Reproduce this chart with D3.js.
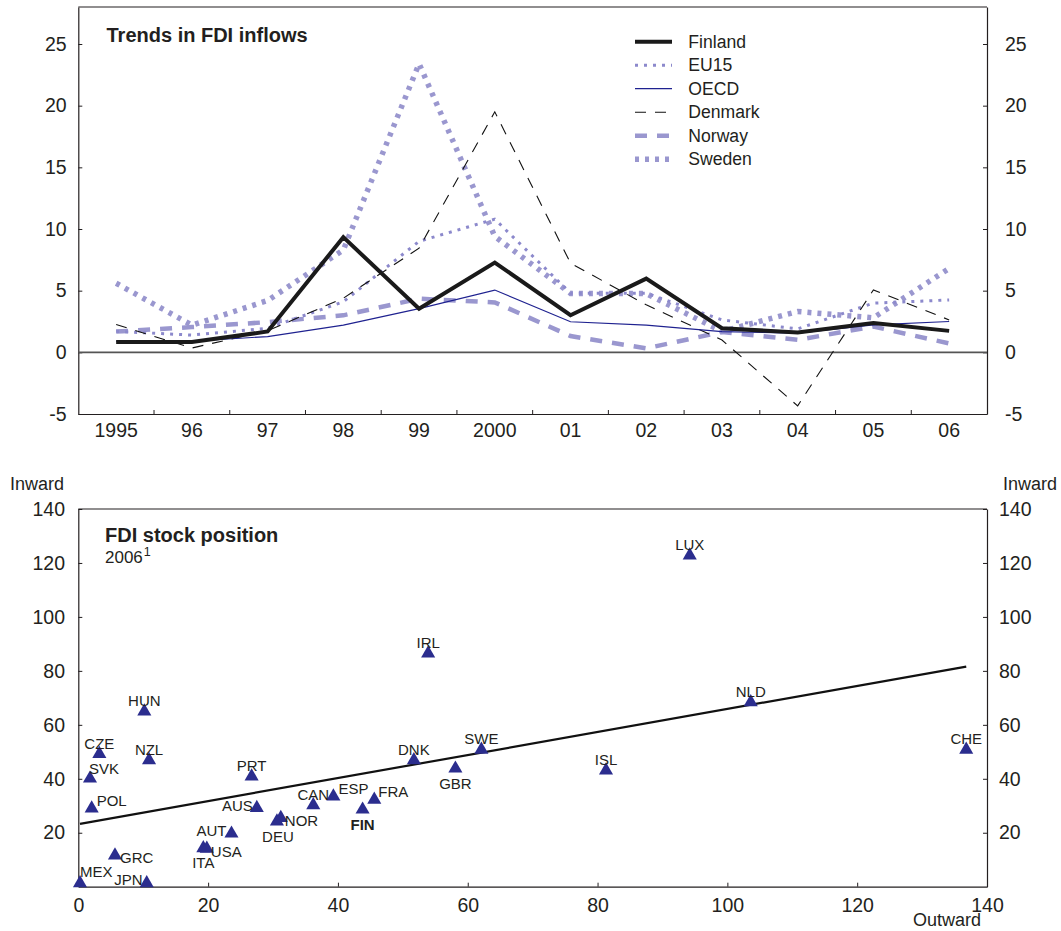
<!DOCTYPE html>
<html><head><meta charset="utf-8">
<script src="https://cdn.jsdelivr.net/npm/d3@7"></script>
<style>
body{margin:0;background:#fff}
text{font-family:"Liberation Sans",Arial,Helvetica,sans-serif;fill:#231f20}
</style>
</head><body>
<svg id="c" width="1061" height="931"></svg>
<script>
// ---------- Top panel data ----------
const years = ["1995","96","97","98","99","2000","01","02","03","04","05","06"];
const finland = [0.83,0.83,1.69,9.34,3.53,7.28,3.01,5.98,1.96,1.6,2.37,1.74];
const eu15    = [1.7,1.4,1.95,4.1,9.0,10.8,4.8,4.8,2.63,1.9,3.99,4.25];
const oecd    = [0.9,0.9,1.28,2.2,3.55,5.05,2.48,2.2,1.68,1.55,2.22,2.5];
const denmark = [2.25,0.35,1.75,4.39,8.45,19.5,7.23,3.85,1.0,-4.34,5.06,2.63];
const norway  = [1.68,2.05,2.45,3.0,4.35,4.05,1.32,0.32,1.65,1.01,2.09,0.72];
const sweden  = [5.6,2.2,4.2,8.3,23.4,9.4,4.78,4.76,1.7,3.31,2.8,6.8];
const topYTicks = [-5,0,5,10,15,20,25];
const seriesNames = ["Finland","EU15","OECD","Denmark","Norway","Sweden"];

// ---------- Bottom panel data ----------
const countries = ["MEX","JPN","GRC","POL","SVK","CZE","HUN","NZL","PRT","AUS","AUT","ITA","USA","DEU","NOR","CAN","ESP","FIN","FRA","DNK","GBR","SWE","IRL","ISL","LUX","NLD","CHE"];
const outward = [0.26,10.54,5.65,2.06,1.8,3.24,10.17,10.9,26.7,27.5,23.6,19.26,19.8,30.6,31.2,36.2,39.3,43.8,45.6,51.7,58.1,62.1,53.9,81.3,94.2,103.6,136.8];
const inward  = [1.3,1.3,11.6,29.0,40.1,49.2,65.0,46.9,40.9,29.2,19.7,14.3,14.1,24.2,25.5,30.2,33.5,28.6,32.3,46.9,43.8,50.8,86.5,43.1,122.8,68.4,50.8];
const trendOutward = [0.26,136.8];
const trendInward  = [23.3,81.6];
const bottomXTicks = [0,20,40,60,80,100,120,140];
const bottomYTicks = [20,40,60,80,100,120,140];

// label placement: [anchor, dx, dy(center)]
const labelPlace = {
  MEX:["start",0,-11.5], JPN:["end",-4,-3], GRC:["start",5,2.5], POL:["start",5,-7.5],
  SVK:["start",-1,-10], AUS:["end",-4,-2.5], AUT:["end",-5,-2.5], ITA:["middle",0,14.5],
  USA:["start",4,3], DEU:["middle",1,15.5], NOR:["start",4,3], ESP:["start",5,-7.5],
  FIN:["middle",0,15], FRA:["start",4,-7.5], GBR:["middle",0,15]
};

const FONT = '"Liberation Sans",Arial,Helvetica,sans-serif';
const INK = "#231f20", PURPLE = "#9a97cf", NAVY = "#2b2d8e";
const svg = d3.select("#c");
const L = 78.3, R = 987;
const fmt = d => String(d);

// ================= TOP PANEL =================
const T1 = 7, B1 = 414;
const x1 = d3.scaleBand().domain(years).range([L, R]);
const y1 = d3.scaleLinear().domain([-5, 28]).range([B1, T1]);
const cx = d => x1(d) + x1.bandwidth() / 2;

svg.append("line").attr("x1", L).attr("x2", R).attr("y1", T1).attr("y2", T1)
  .attr("stroke", INK).attr("stroke-width", 1.2);

function styleAxis(g, fs) {
  g.attr("font-family", FONT).attr("font-size", fs);
  g.select(".domain").attr("stroke", INK).attr("stroke-width", 1.2);
  g.selectAll(".tick line").attr("stroke", INK).attr("stroke-width", 1);
  g.selectAll(".tick text").attr("fill", INK);
}

svg.append("g").attr("transform", `translate(${L},0)`)
  .call(d3.axisLeft(y1).tickValues(topYTicks).tickFormat(fmt).tickSizeInner(-4).tickSizeOuter(0).tickPadding(11.6))
  .call(g => styleAxis(g, 19.5));
svg.append("g").attr("transform", `translate(${R},0)`)
  .call(d3.axisRight(y1).tickValues(topYTicks).tickFormat(fmt).tickSizeInner(-4).tickSizeOuter(0).tickPadding(18))
  .call(g => styleAxis(g, 19.5));
const xa1 = svg.append("g").attr("transform", `translate(0,${B1})`)
  .call(d3.axisBottom(x1).tickSize(0).tickSizeOuter(0).tickPadding(8.9))
  .call(g => styleAxis(g, 19.5));
xa1.selectAll(".bnd").data(years.slice(1)).enter().append("line")
  .attr("x1", d => x1(d)).attr("x2", d => x1(d)).attr("y1", 0).attr("y2", -4)
  .attr("stroke", INK).attr("stroke-width", 1);

svg.append("line").attr("x1", L).attr("x2", R).attr("y1", y1(0)).attr("y2", y1(0))
  .attr("stroke", "#555").attr("stroke-width", 1.6);

const seriesData = {Finland: finland, EU15: eu15, OECD: oecd, Denmark: denmark, Norway: norway, Sweden: sweden};
const styles = {
  Finland: {stroke: "#1a1a1a", w: 4, dash: null},
  EU15:    {stroke: "#8c89cc", w: 3, dash: "3,6"},
  OECD:    {stroke: "#1f2290", w: 1.2, dash: null},
  Denmark: {stroke: "#111", w: 1.1, dash: "11,9"},
  Norway:  {stroke: PURPLE, w: 4.5, dash: "12,10"},
  Sweden:  {stroke: PURPLE, w: 5.5, dash: "4,6"}
};
const line1 = d3.line().x((d, i) => cx(years[i])).y(d => y1(d));
["Sweden","Norway","EU15","Denmark","OECD","Finland"].forEach(n => {
  const s = styles[n];
  svg.append("path").datum(seriesData[n]).attr("d", line1)
    .attr("fill", "none").attr("stroke", s.stroke).attr("stroke-width", s.w)
    .attr("stroke-dasharray", s.dash).attr("stroke-linejoin", "miter");
});

svg.append("text").attr("x", 106.5).attr("y", 41.7).attr("font-size", 20)
  .attr("font-weight", "bold").text("Trends in FDI inflows");

const leg = svg.append("g");
seriesNames.forEach((n, i) => {
  const yy = 41.7 + i * 23.5;
  const s = styles[n];
  leg.append("line").attr("x1", 635).attr("x2", 672).attr("y1", yy).attr("y2", yy)
    .attr("stroke", s.stroke).attr("stroke-width", s.w).attr("stroke-dasharray", s.dash);
  leg.append("text").attr("x", 688.3).attr("y", yy).attr("dy", "0.35em")
    .attr("font-size", 17.6).text(n);
});

// ================= BOTTOM PANEL =================
const T2 = 509, B2 = 886.7;
const x2 = d3.scaleLinear().domain([0, 140]).range([L, R]);
const y2 = d3.scaleLinear().domain([0, 140]).range([B2, T2]);

svg.append("line").attr("x1", L).attr("x2", R).attr("y1", T2).attr("y2", T2)
  .attr("stroke", INK).attr("stroke-width", 1.2);
svg.append("g").attr("transform", `translate(${L},0)`)
  .call(d3.axisLeft(y2).tickValues(bottomYTicks).tickFormat(fmt).tickSizeInner(-4).tickSizeOuter(0).tickPadding(13.3))
  .call(g => styleAxis(g, 19.5));
svg.append("g").attr("transform", `translate(${R},0)`)
  .call(d3.axisRight(y2).tickValues(bottomYTicks).tickFormat(fmt).tickSizeInner(-4).tickSizeOuter(0).tickPadding(12))
  .call(g => styleAxis(g, 19.5));
svg.append("g").attr("transform", `translate(0,${B2})`)
  .call(d3.axisBottom(x2).tickValues(bottomXTicks).tickFormat(fmt).tickSizeInner(-4).tickSizeOuter(0).tickPadding(11.2))
  .call(g => styleAxis(g, 19.5));

svg.append("text").attr("x", 10).attr("y", 490).attr("font-size", 18).text("Inward");
svg.append("text").attr("x", 1003).attr("y", 490).attr("font-size", 18).text("Inward");
svg.append("text").attr("x", 981).attr("y", 926).attr("font-size", 18).attr("text-anchor", "end").text("Outward");

svg.append("text").attr("x", 105).attr("y", 541.7).attr("font-size", 20)
  .attr("font-weight", "bold").text("FDI stock position");
const sub = svg.append("text").attr("x", 105).attr("y", 563.3).attr("font-size", 17);
sub.append("tspan").text("2006");
sub.append("tspan").attr("font-size", 12.5).attr("dy", -7).attr("dx", 1).text("1");

svg.append("line")
  .attr("x1", x2(trendOutward[0])).attr("y1", y2(trendInward[0]))
  .attr("x2", x2(trendOutward[1])).attr("y2", y2(trendInward[1]))
  .attr("stroke", "#111").attr("stroke-width", 2.2);

const tri = d3.symbol().type(d3.symbolTriangle).size(86);
const pts = countries.map((c, i) => ({c, x: outward[i], y: inward[i]}));
svg.append("g").selectAll("path").data(pts).enter().append("path")
  .attr("d", tri).attr("transform", d => `translate(${x2(d.x)},${y2(d.y)})`)
  .attr("fill", NAVY);

svg.append("g").selectAll("text").data(pts).enter().append("text")
  .attr("font-size", 15)
  .attr("font-weight", d => d.c === "FIN" ? "bold" : "normal")
  .attr("text-anchor", d => (labelPlace[d.c] || ["middle"])[0])
  .attr("x", d => x2(d.x) + (labelPlace[d.c] ? labelPlace[d.c][1] : 0))
  .attr("y", d => y2(d.y) + (labelPlace[d.c] ? labelPlace[d.c][2] : -10.5))
  .attr("dy", "0.35em")
  .text(d => d.c);
</script>
</body></html>
